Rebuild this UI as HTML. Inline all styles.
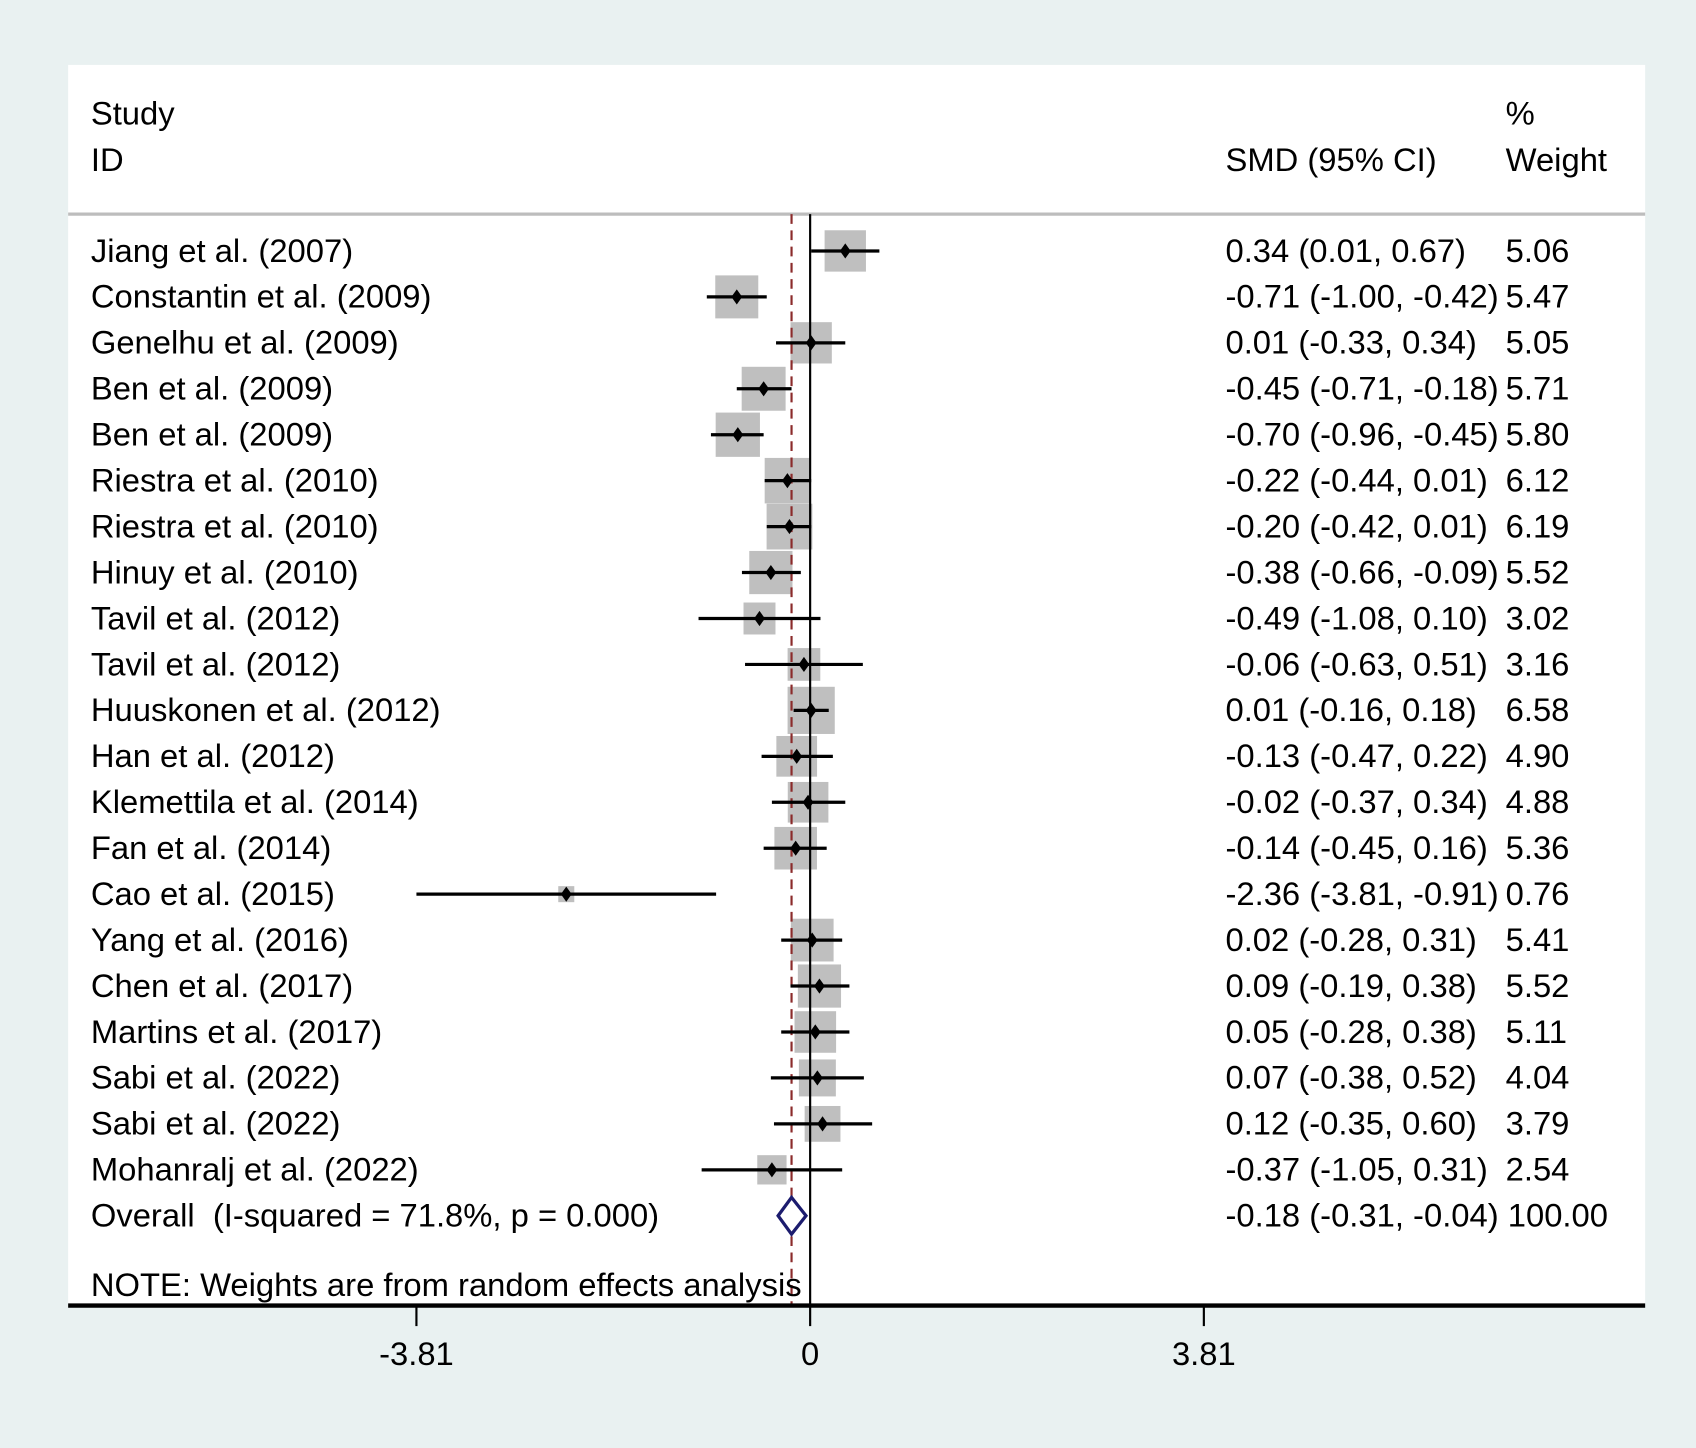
<!DOCTYPE html>
<html><head><meta charset="utf-8">
<style>
html,body{margin:0;padding:0;background:#e9f1f1;}
svg{display:block;}
text{font-family:"Liberation Sans",Arial,sans-serif;font-size:30.3px;fill:#000;}
</style></head>
<body>
<svg id="chart" width="1696" height="1448" viewBox="0 0 1568 1338.7" preserveAspectRatio="none" xmlns="http://www.w3.org/2000/svg">
<rect x="0" y="0" width="1568" height="1338.7" fill="#e9f1f1"/>
<rect x="63" y="60" width="1458" height="1147" fill="#ffffff"/>
<text x="84" y="115">Study</text>
<text x="84" y="158">ID</text>
<text x="1133" y="158">SMD (95% CI)</text>
<text x="1392" y="115">%</text>
<text x="1392" y="158">Weight</text>
<line x1="63" x2="1521" y1="198" y2="198" stroke="#bdbdbd" stroke-width="3"/>
<g id="marks"></g>
<text x="84" y="1198">NOTE: Weights are from random effects analysis</text>
<line x1="63" x2="1521" y1="1207" y2="1207" stroke="#000" stroke-width="4"/>
<g id="axis"></g>
</svg>
<script>
const studies = ["Jiang et al. (2007)","Constantin et al. (2009)","Genelhu et al. (2009)","Ben et al. (2009)","Ben et al. (2009)","Riestra et al. (2010)","Riestra et al. (2010)","Hinuy et al. (2010)","Tavil et al. (2012)","Tavil et al. (2012)","Huuskonen et al. (2012)","Han et al. (2012)","Klemettila et al. (2014)","Fan et al. (2014)","Cao et al. (2015)","Yang et al. (2016)","Chen et al. (2017)","Martins et al. (2017)","Sabi et al. (2022)","Sabi et al. (2022)","Mohanralj et al. (2022)"];
const smd = [0.34,-0.71,0.01,-0.45,-0.70,-0.22,-0.20,-0.38,-0.49,-0.06,0.01,-0.13,-0.02,-0.14,-2.36,0.02,0.09,0.05,0.07,0.12,-0.37];
const lower = [0.01,-1.00,-0.33,-0.71,-0.96,-0.44,-0.42,-0.66,-1.08,-0.63,-0.16,-0.47,-0.37,-0.45,-3.81,-0.28,-0.19,-0.28,-0.38,-0.35,-1.05];
const upper = [0.67,-0.42,0.34,-0.18,-0.45,0.01,0.01,-0.09,0.10,0.51,0.18,0.22,0.34,0.16,-0.91,0.31,0.38,0.38,0.52,0.60,0.31];
const weights = [5.06,5.47,5.05,5.71,5.80,6.12,6.19,5.52,3.02,3.16,6.58,4.90,4.88,5.36,0.76,5.41,5.52,5.11,4.04,3.79,2.54];
const overall = [-0.18,-0.31,-0.04,100.00];
const ticks = [-3.81,0,3.81];

const NS="http://www.w3.org/2000/svg";
const X0=749, PX=364/3.81;
function xs(v){return X0+v*PX;}
function ys(i){return 232+i*42.476;}
function mk(tag,attrs,parent){const e=document.createElementNS(NS,tag);for(const k in attrs)e.setAttribute(k,attrs[k]);parent.appendChild(e);return e;}
function fmt(v){return v.toFixed(2);}
const g=document.getElementById('marks');
for(let i=0;i<studies.length;i++){
  const s=17*Math.sqrt(weights[i]);
  const r=mk('rect',{x:xs(smd[i])-s/2,y:ys(i)-s/2,width:s,height:s,fill:'#bfbfbf'},g);
  
  
}
const zl=mk('line',{x1:X0,x2:X0,y1:198,y2:1207,stroke:'#000','stroke-width':2},g);


const ol=mk('line',{x1:xs(overall[0]),x2:xs(overall[0]),y1:198,y2:1207,stroke:'#8b2b2b','stroke-width':2,'stroke-dasharray':'9,6'},g);


for(let i=0;i<studies.length;i++){
  const y=ys(i);
  const l=mk('line',{x1:xs(lower[i]),x2:xs(upper[i]),y1:y,y2:y,stroke:'#000','stroke-width':3},g);
  
  
  const cx=xs(smd[i]);
  const p=mk('polygon',{points:`${cx-5},${y} ${cx},${y-7} ${cx+5},${y} ${cx},${y+7}`,fill:'#000'},g);
  
  
  const t=mk('text',{x:84,y:y+10},g);t.textContent=studies[i];
  
  
  const t2=mk('text',{x:1133,y:y+10},g);t2.textContent=`${fmt(smd[i])} (${fmt(lower[i])}, ${fmt(upper[i])})`;
  
  
  const t3=mk('text',{x:1392,y:y+10},g);t3.textContent=fmt(weights[i]);
  
  
}
const yo=ys(studies.length);
const d=mk('polygon',{points:`${xs(overall[1])},${yo} ${xs(overall[0])},${yo-17} ${xs(overall[2])},${yo} ${xs(overall[0])},${yo+17}`,fill:'#fff',stroke:'#1c1c6e','stroke-width':3},g);


const ot=mk('text',{x:84,y:yo+10},g);ot.textContent='Overall\u00a0\u00a0(I-squared = 71.8%, p = 0.000)';


const ot2=mk('text',{x:1133,y:yo+10},g);ot2.textContent=`${fmt(overall[0])} (${fmt(overall[1])}, ${fmt(overall[2])}) ${fmt(overall[3])}`;


const ax=document.getElementById('axis');
for(const v of ticks){
  const tl=mk('line',{x1:xs(v),x2:xs(v),y1:1207,y2:1226,stroke:'#000','stroke-width':2},ax);
  
  
  const tt=mk('text',{x:xs(v),y:1262,'text-anchor':'middle'},ax);tt.textContent=v===0?'0':v.toFixed(2);
  
  
}
</script>
</body></html>
